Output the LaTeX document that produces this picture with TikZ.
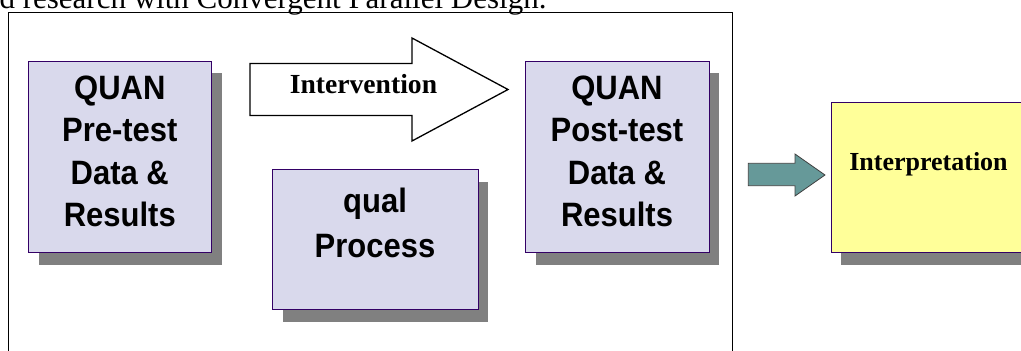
\documentclass[tikz,border=0pt]{standalone}
\usepackage{fontspec}
\setmainfont{Liberation Serif}
\newfontfamily\arialf{Liberation Sans}
\usetikzlibrary{shadows}
\definecolor{lav}{RGB}{217,217,236}
\definecolor{bord}{RGB}{51,0,102}
\definecolor{shad}{RGB}{128,128,128}
\definecolor{yel}{RGB}{255,255,153}
\definecolor{tealfill}{RGB}{102,153,153}
\newcommand{\tallstack}[2]{\scalebox{1}[1.09]{\arialf\bfseries\fontsize{31}{#1}\selectfont\begin{tabular}[b]{@{}c@{}}#2\end{tabular}}}
\begin{document}
\begin{tikzpicture}[x=1pt,y=-1pt,
  box/.style={draw=bord, line width=0.9pt, anchor=north west, inner sep=0pt,
    drop shadow={shadow xshift=10pt, shadow yshift=-12pt, fill=shad, opacity=1}},
  quantxt/.style={anchor=base, inner sep=0pt},
  serifbold/.style={font={\bfseries\fontsize{#1}{#1}\selectfont}, anchor=base, inner sep=0pt},
  blockarrow/.style={line join=miter}
]
\useasboundingbox (0,0) rectangle (1021,351);
\clip (0,0) rectangle (1021,351);
% partial heading text
\node[anchor=base east, inner sep=0pt, font={\fontsize{31}{31}\selectfont}] (heading) at (546.7,8.5) {d research with Convergent Parallel Design.};
% frame
\draw[line width=1.4pt] (8.3,370) -- (8.3,12.7) -- (732.7,12.7) -- (732.7,370);
% boxes
\node[box, fill=lav, minimum width=183pt, minimum height=191.6pt] (pre) at (28.3,60.7) {};
\node[box, fill=lav, minimum width=205.4pt, minimum height=140pt] (qual) at (272.3,169.3) {};
\node[box, fill=lav, minimum width=183.4pt, minimum height=191.6pt] (post) at (525.3,60.7) {};
\node[box, fill=yel, minimum width=230pt, minimum height=150.6pt] (interp) at (830.7,101.7) {};
% labels (baseline of the last line)
\node[quantxt] (pretxt) at (119.8,226.7) {\tallstack{39}{QUAN\\Pre-test\\Data \&\\Results}};
\node[quantxt] (posttxt) at (617,226.7) {\tallstack{39}{QUAN\\Post-test\\Data \&\\Results}};
\node[quantxt] (qualtxt) at (375,257) {\tallstack{40.5}{qual\\Process}};
% intervention arrow
\draw[blockarrow, line width=1.3pt, fill=white] (250,63.5) -- (412,63.5) -- (412,38) -- (508,89.5) -- (412,141) -- (412,115.5) -- (250,115.5) -- cycle;
\node[serifbold=27.6] (inttxt) at (363.5,93) {Intervention};
% teal arrow
\draw[blockarrow, draw=black!75, line width=0.8pt, fill=tealfill] (748.3,163.3) -- (795,163.3) -- (795,154) -- (825,175) -- (795,196) -- (795,185.7) -- (748.3,185.7) -- cycle;
\node[serifbold=26] (interptxt) at (928.5,170.5) {Interpretation};
\end{tikzpicture}
\end{document}
